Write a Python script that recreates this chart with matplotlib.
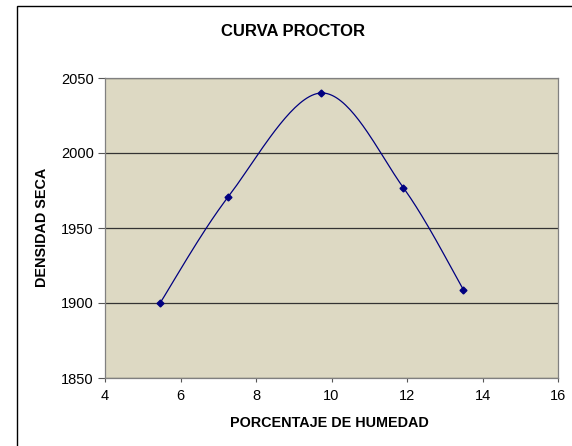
import numpy as np
import matplotlib
matplotlib.use("Agg")
import matplotlib.pyplot as plt
from matplotlib.patches import Rectangle

plt.rcParams["font.family"] = ["Liberation Sans", "DejaVu Sans"]

humedad = [5.46, 7.27, 9.72, 11.90, 13.49]
densidad = [1900, 1971, 2040, 1977, 1909]
x_ticks = [4, 6, 8, 10, 12, 14, 16]
y_ticks = [1850, 1900, 1950, 2000, 2050]


def smooth(xs, ys, n=40):
    # Excel-like smoothed line: cubic Bezier with Catmull-Rom control points
    p = np.column_stack([xs, ys]).astype(float)
    ext = np.vstack([p[0], p, p[-1]])
    out = []
    for i in range(len(p) - 1):
        p0, p1, p2, p3 = ext[i], ext[i + 1], ext[i + 2], ext[i + 3]
        c1 = p1 + (p2 - p0) / 6
        c2 = p2 - (p3 - p1) / 6
        t = np.linspace(0, 1, n)[:, None]
        seg = ((1 - t) ** 3) * p1 + 3 * ((1 - t) ** 2) * t * c1 + 3 * (1 - t) * t ** 2 * c2 + t ** 3 * p2
        out.append(seg)
    s = np.vstack(out)
    return s[:, 0], s[:, 1]


fig = plt.figure(figsize=(5.72, 4.46), dpi=100)
fig.patches.append(Rectangle((17 / 572, -0.1), 1.2, 1 - 6 / 446 + 0.1,
                             transform=fig.transFigure, fill=False,
                             edgecolor="black", linewidth=1.0))

ax = fig.add_axes([105 / 572, 1 - 378 / 446, 453 / 572, 300 / 446])
ax.set_facecolor("#DDD9C3")

sx, sy = smooth(humedad, densidad)
ax.plot(sx, sy, color="#000080", linewidth=0.9, zorder=3)
ax.plot(humedad, densidad, linestyle="none", marker="D", markersize=3.5,
        color="#000080", zorder=4)

ax.set_xlim(4, 16)
ax.set_ylim(1850, 2050)
ax.set_xticks(x_ticks)
ax.set_yticks(y_ticks)
ax.tick_params(labelsize=10.5, width=0.8, color="#555555")
ax.tick_params(axis="y", length=5, pad=3)
ax.tick_params(axis="x", length=3, pad=5)
ax.grid(axis="y", color="#333333", linewidth=0.9)
for s in ax.spines.values():
    s.set_color("#808080")
    s.set_linewidth(0.9)

fig.text(329 / 572, 1 - 423 / 446, "PORCENTAJE DE HUMEDAD", fontsize=10.4,
         fontweight="bold", ha="center", va="center")
fig.text(42 / 572, 1 - 227 / 446, "DENSIDAD SECA", fontsize=10.4,
         fontweight="bold", rotation=90, ha="center", va="center")
fig.text(293 / 572, 1 - 32 / 446, "CURVA PROCTOR", fontsize=12,
         fontweight="bold", ha="center", va="center")

fig.savefig("out.png", dpi=100)
